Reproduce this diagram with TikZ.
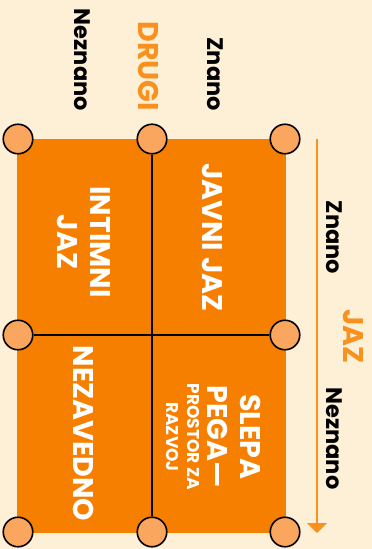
\documentclass[tikz,border=0pt]{standalone}
\usepackage{fontspec}
\setmainfont{Poppins}
\usetikzlibrary{arrows.meta}
\definecolor{cream}{HTML}{FEF0D6}
\definecolor{boxorange}{HTML}{F77F00}
\definecolor{dotorange}{HTML}{FBA65F}
\definecolor{textorange}{HTML}{F8911E}
\begin{document}
\begin{tikzpicture}[x=1pt,y=-1pt,
    corner/.style={circle,draw=black,line width=1.6pt,fill=dotorange,minimum size=29.5pt,inner sep=0pt},
    axislabel/.style={rotate=-90,inner sep=0pt,font=\fontsize{22.5}{27}\selectfont\bfseries},
    axistitle/.style={axislabel,text=textorange,font=\fontsize{28.5}{33}\selectfont\bfseries},
    cell/.style={rotate=-90,inner sep=0pt,align=center,text=white,font=\fontsize{28.5}{33}\selectfont\bfseries}]
    \fill[cream] (0,0) rectangle (372,549);
    \useasboundingbox (0,0) rectangle (372,549);
    \fill[boxorange] (17,139) rectangle (286,533);

    \node[corner] (tl) at (18,139) {};
    \node[corner] (tm) at (152,139) {};
    \node[corner] (tr) at (285,139) {};
    \node[corner] (ml) at (18,335) {};
    \node[corner] (mr) at (285,335) {};
    \node[corner] (bl) at (18,532) {};
    \node[corner] (bm) at (152,532) {};
    \node[corner] (br) at (285,532) {};

    \draw[line width=1.5pt] (tm) -- (bm);
    \draw[line width=1.5pt] (ml) -- (mr);

    \node[axislabel,anchor=east] (topneznano) at (82.5,111) {Neznano};
    \node[axistitle,anchor=east] (drugi) at (149,111) {DRUGI};
    \node[axislabel,anchor=east] (topznano) at (215.5,111) {Znano};

    \coordinate (arrtop) at (317,139);
    \coordinate (arrend) at (317,533);
    \draw[textorange,line width=2pt,-{Triangle[width=20pt,length=10pt]}] (arrtop) -- (arrend);

    \node[axislabel] (rightznano) at (334,237.5) {Znano};
    \node[axistitle] (jaz) at (353,336.5) {JAZ};
    \node[axislabel] (rightneznano) at (334,438.5) {Neznano};

    \node[cell] (javni) at (212,237.5) {JAVNI JAZ};
    \node[cell] (intimni) at (83.5,242) {INTIMNI\\JAZ};
    \node[cell] (nezavedno) at (84,433.5) {NEZAVEDNO};
    \node[cell] (slepa) at (213.5,437) {SLEPA\\PEGA—\\[-13pt]\fontsize{17}{20}\selectfont PROSTOR ZA\\[-12pt]\fontsize{17}{20}\selectfont RAZVOJ};
\end{tikzpicture}
\end{document}
